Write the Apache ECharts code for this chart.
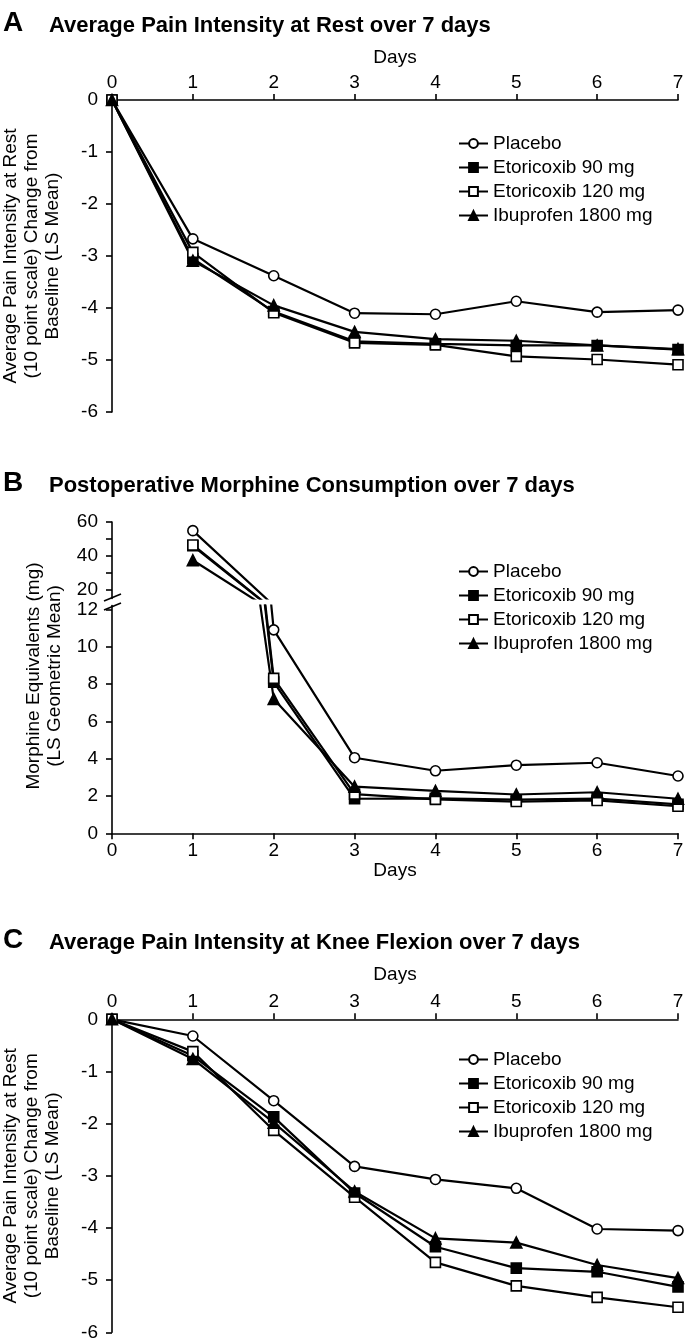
<!DOCTYPE html>
<html>
<head>
<meta charset="utf-8">
<title>Pain intensity and morphine consumption over 7 days</title>
<script src="https://cdn.jsdelivr.net/npm/echarts@6/dist/echarts.min.js"></script>
<style>
  html, body { margin: 0; padding: 0; background: #fff; }
  #chart { width: 685px; height: 1343px; }
</style>
</head>
<body>
<div id="chart"></div>
<script>
// data
const days = [0, 1, 2, 3, 4, 5, 6, 7];
const groupNames = ['Placebo', 'Etoricoxib 90 mg', 'Etoricoxib 120 mg', 'Ibuprofen 1800 mg'];

// A: pain at rest, change from baseline
const restPlacebo = [0, -2.67, -3.38, -4.10, -4.12, -3.87, -4.08, -4.04];
const restEtor90 = [0, -3.05, -4.07, -4.64, -4.69, -4.72, -4.72, -4.80];
const restEtor120 = [0, -2.93, -4.09, -4.67, -4.71, -4.93, -4.99, -5.09];
const restIbu = [0, -3.09, -3.95, -4.46, -4.60, -4.63, -4.72, -4.79];

// B: morphine equivalents (mg), days 1..7
const morphDays = [1, 2, 3, 4, 5, 6, 7];
const morphPlacebo = [54.9, 10.9, 4.05, 3.35, 3.65, 3.78, 3.07];
const morphEtor90 = [46.0, 8.1, 1.85, 1.87, 1.80, 1.86, 1.55];
const morphEtor120 = [46.5, 8.3, 2.10, 1.82, 1.70, 1.76, 1.45];
const morphIbu = [37.5, 7.2, 2.50, 2.27, 2.08, 2.20, 1.85];
const morphUpperTicks = [20, 30, 40, 50, 60];
const morphUpperLabels = [20, 40, 60];
const morphLowerTicks = [0, 2, 4, 6, 8, 10, 12];

// C: pain at knee flexion, change from baseline
const flexPlacebo = [0, -0.32, -1.56, -2.82, -3.07, -3.24, -4.02, -4.05];
const flexEtor90 = [0, -0.70, -1.87, -3.33, -4.36, -4.77, -4.84, -5.13];
const flexEtor120 = [0, -0.62, -2.13, -3.41, -4.66, -5.11, -5.33, -5.52];
const flexIbu = [0, -0.76, -1.98, -3.30, -4.20, -4.28, -4.71, -4.96];

const font = 'Liberation Sans, Arial, Helvetica, sans-serif';
const fs = 19;

// marker styles per group
const markStyles = [
  { symbol: 'circle', fill: '#fff', size: 10 },
  { symbol: 'rect', fill: '#000', size: 10 },
  { symbol: 'rect', fill: '#fff', size: 10 },
  { symbol: 'triangle', fill: '#000', size: 11 }
];

function makeLine(idx, xs, ys, gridIdx) {
  const m = markStyles[idx];
  return {
    name: groupNames[idx],
    type: 'line',
    xAxisIndex: gridIdx,
    yAxisIndex: gridIdx,
    data: xs.map((x, i) => [x, ys[i]]),
    symbol: m.symbol,
    symbolSize: m.size,
    showAllSymbol: true,
    clip: true,
    lineStyle: { color: '#000', width: 2.2 },
    itemStyle: { color: m.fill, borderColor: '#000', borderWidth: 1.6 },
    emphasis: { disabled: true }
  };
}

const axisCommon = {
  axisLine: { lineStyle: { color: '#000', width: 1.6 } },
  axisTick: { length: 6, lineStyle: { color: '#000', width: 1.6 } },
  splitLine: { show: false }
};

function painYAxis(gridIdx) {
  return Object.assign({}, axisCommon, {
    type: 'value', gridIndex: gridIdx, min: -6, max: 0, interval: 1,
    name: 'Average Pain Intensity at Rest\n(10 point scale) Change from\nBaseline (LS Mean)',
    nameLocation: 'middle', nameGap: 49, nameRotate: 90,
    nameTextStyle: { color: '#000', fontSize: fs, lineHeight: 21, fontFamily: font },
    axisLabel: { color: '#000', fontSize: fs, fontFamily: font, margin: 14 }
  });
}

function daysXAxis(gridIdx, position, gap) {
  return Object.assign({}, axisCommon, {
    type: 'value', gridIndex: gridIdx, min: 0, max: 7, interval: 1, position: position,
    name: 'Days', nameLocation: 'middle', nameGap: gap,
    nameTextStyle: { color: '#000', fontSize: fs, fontFamily: font },
    axisLabel: { color: '#000', fontSize: fs, fontFamily: font, margin: 8 }
  });
}

function legendAt(top) {
  return {
    data: groupNames, orient: 'vertical', left: 458, top: top, padding: 0,
    itemWidth: 29, itemHeight: 11, itemGap: 5, selectedMode: false,
    textStyle: { color: '#000', fontSize: fs, lineHeight: 19, fontFamily: font }
  };
}

function titleText(letter, text, letterY, textY) {
  return [
    { type: 'text', x: 3, y: letterY, style: { text: letter, font: 'bold 28px ' + font, fill: '#000', verticalAlign: 'middle' } },
    { type: 'text', x: 49, y: textY, style: { text: text, font: 'bold 22px ' + font, fill: '#000', verticalAlign: 'middle' } }
  ];
}

const series = [];
const restSets = [restPlacebo, restEtor90, restEtor120, restIbu];
const morphSets = [morphPlacebo, morphEtor90, morphEtor120, morphIbu];
const flexSets = [flexPlacebo, flexEtor90, flexEtor120, flexIbu];
restSets.forEach((ys, i) => series.push(makeLine(i, days, ys, 0)));
morphSets.forEach((ys, i) => series.push(makeLine(i, morphDays, ys, 1)));
morphSets.forEach((ys, i) => series.push(makeLine(i, morphDays, ys, 2)));
flexSets.forEach((ys, i) => series.push(makeLine(i, days, ys, 3)));

const gridBase = { left: 112, right: 7, outerBoundsMode: 'none', containLabel: false };

const option = {
  animation: false,
  backgroundColor: '#fff',
  textStyle: { fontFamily: font },
  grid: [
    Object.assign({ top: 100, height: 312 }, gridBase),
    Object.assign({ top: 522, height: 76.5 }, gridBase),
    Object.assign({ top: 605.6, height: 227.7 }, gridBase),
    Object.assign({ top: 1019.3, height: 313 }, gridBase)
  ],
  xAxis: [
    daysXAxis(0, 'top', 33),
    { type: 'value', gridIndex: 1, min: 0, max: 7, show: false },
    daysXAxis(2, 'bottom', 25),
    daysXAxis(3, 'top', 35)
  ],
  yAxis: [
    painYAxis(0),
    Object.assign({}, axisCommon, {
      type: 'value', gridIndex: 1, min: 15, max: 60,
      axisTick: { length: 6, lineStyle: { color: '#000', width: 1.6 }, customValues: morphUpperTicks },
      axisLabel: { color: '#000', fontSize: fs, fontFamily: font, margin: 14, customValues: morphUpperLabels }
    }),
    Object.assign({}, axisCommon, {
      type: 'value', gridIndex: 2, min: 0, max: 12.2,
      axisTick: { length: 6, lineStyle: { color: '#000', width: 1.6 }, customValues: morphLowerTicks },
      axisLabel: { color: '#000', fontSize: fs, fontFamily: font, margin: 14, customValues: morphLowerTicks }
    }),
    painYAxis(3)
  ],
  legend: [legendAt(134), legendAt(562), legendAt(1050)],
  graphic: [].concat(
    titleText('A', 'Average Pain Intensity at Rest over 7 days', 23, 26),
    titleText('B', 'Postoperative Morphine Consumption over 7 days', 483, 486),
    titleText('C', 'Average Pain Intensity at Knee Flexion over 7 days', 940, 943),
    [
      {
        type: 'text', x: 44, y: 676, rotation: Math.PI / 2,
        style: {
          text: 'Morphine Equivalents (mg)\n(LS Geometric Mean)', font: fs + 'px ' + font,
          lineHeight: 21, fill: '#000', align: 'center', verticalAlign: 'middle'
        }
      },
      // axis break marks
      { type: 'line', shape: { x1: 104, y1: 601, x2: 121, y2: 594 }, style: { stroke: '#000', lineWidth: 1.6 } },
      { type: 'line', shape: { x1: 104, y1: 610, x2: 121, y2: 603 }, style: { stroke: '#000', lineWidth: 1.6 } }
    ]
  ),
  series: series
};

const chart = echarts.init(document.getElementById('chart'), null, { renderer: 'canvas' });
chart.setOption(option);
</script>
</body>
</html>
